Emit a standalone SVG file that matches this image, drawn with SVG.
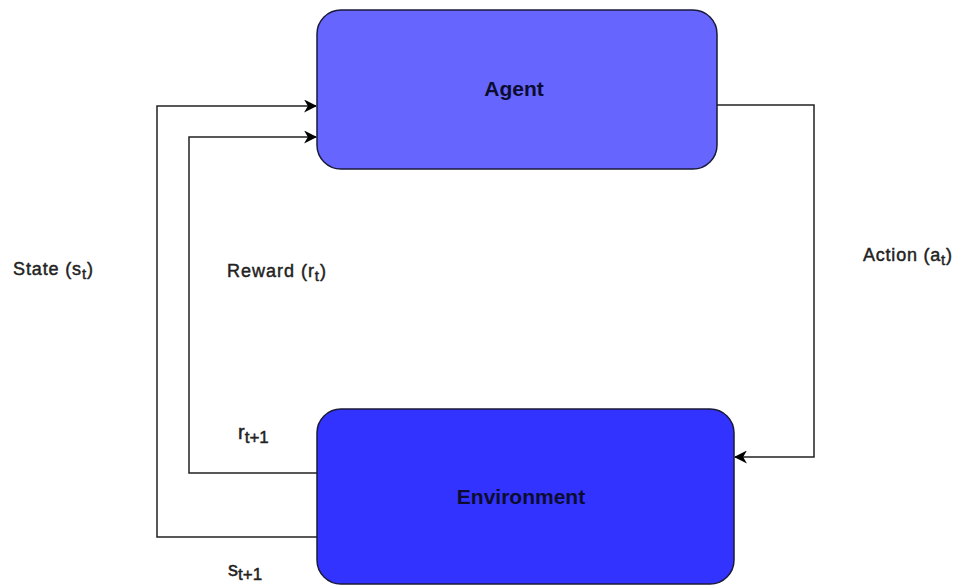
<svg xmlns="http://www.w3.org/2000/svg" width="961" height="588" viewBox="0 0 961 588">
  <defs>
    <marker id="arrow" viewBox="0 0 12 12" refX="11" refY="6" markerWidth="13" markerHeight="13" markerUnits="userSpaceOnUse" orient="auto">
      <path d="M0,0 L12,6 L0,12 L3.5,6 Z" fill="#000"/>
    </marker>
  </defs>
  <style>
    .box { stroke: #1a1a3a; stroke-width: 1.5; }
    .title { font-family: "Liberation Sans", Arial, sans-serif; font-weight: bold; font-size: 21px; fill: #0c0c30; text-anchor: middle; }
    .lbl { font-family: "Liberation Sans", Arial, sans-serif; font-size: 18px; fill: #222; stroke: #222; stroke-width: 0.45; }
    .sub { font-size: 15px; }
    .big { font-size: 20px; }
    .big .sub { font-size: 17px; }
    .wire { fill: none; stroke: #222; stroke-width: 1.5; }
  </style>
  <rect width="961" height="588" fill="#fff"/>

  <g id="connectors">
    <!-- state feedback: Environment -> Agent (outer loop) -->
    <path class="wire" d="M317,537 H157 V106 H316" marker-end="url(#arrow)"/>
    <!-- reward feedback: Environment -> Agent (inner loop) -->
    <path class="wire" d="M317,473 H189 V137 H316" marker-end="url(#arrow)"/>
    <!-- action: Agent -> Environment -->
    <path class="wire" d="M717,105 H814 V457 H735" marker-end="url(#arrow)"/>
  </g>

  <g id="agent">
    <rect class="box" x="317" y="10" width="400" height="159" rx="24" fill="#6666ff"/>
    <text class="title" x="514" y="96">Agent</text>
  </g>

  <g id="environment">
    <rect class="box" x="317" y="409" width="417" height="175" rx="24" fill="#3333ff"/>
    <text class="title" x="521" y="504">Environment</text>
  </g>

  <g id="labels">
    <text class="lbl" x="13" y="275" textLength="80">State (s<tspan class="sub" dy="4">t</tspan><tspan dy="-4">)</tspan></text>
    <text class="lbl" x="227" y="277" textLength="99">Reward (r<tspan class="sub" dy="4">t</tspan><tspan dy="-4">)</tspan></text>
    <text class="lbl" x="863" y="261" textLength="89">Action (a<tspan class="sub" dy="4">t</tspan><tspan dy="-4">)</tspan></text>
    <text class="lbl big" x="238" y="439">r<tspan class="sub" dy="4">t+1</tspan></text>
    <text class="lbl big" x="228" y="576">s<tspan class="sub" dy="4">t+1</tspan></text>
  </g>
</svg>
